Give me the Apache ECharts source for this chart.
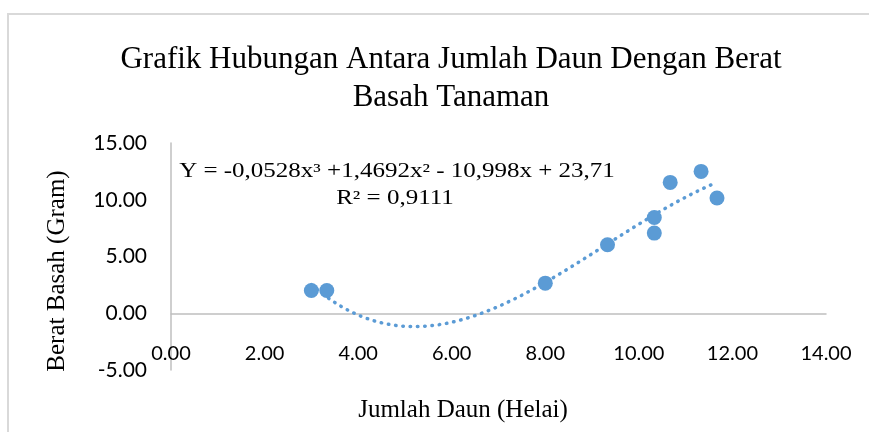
<!DOCTYPE html>
<html>
<head>
<meta charset="utf-8">
<script src="https://cdn.jsdelivr.net/npm/echarts@6/dist/echarts.min.js"></script>
<style>
  html, body { margin: 0; padding: 0; background: #fff; }
  #main { width: 869px; height: 432px; }
</style>
</head>
<body>
<div id="main"></div>
<script>
// data
const jumlahDaun = [3.00, 3.33, 8.00, 9.33, 10.33, 10.33, 10.67, 11.33, 11.67];
const beratBasah = [2.00, 2.00, 2.65, 6.03, 8.44, 7.06, 11.53, 12.50, 10.15];
// polynomial trendline, coefficients as printed on the chart (x^3, x^2, x, c)
const trendCoef = [-0.0528, 1.4692, -10.998, 23.71];
const xTicks = [0, 2, 4, 6, 8, 10, 12, 14];
const yTicks = [-5, 0, 5, 10, 15];

const blue = '#5b9bd5';
const axisGray = '#bfbfbf';

let myChart = echarts.init(document.getElementById('main'));

// trendline samples over the data range
const trend = [];
const xMin = Math.min(...jumlahDaun), xMax = Math.max(...jumlahDaun);
for (let i = 0; i <= 120; i++) {
  const x = xMin + (xMax - xMin) * i / 120;
  const y = trendCoef[0] * x * x * x + trendCoef[1] * x * x + trendCoef[2] * x + trendCoef[3];
  trend.push([x, y]);
}

myChart.setOption({
  animation: false,
  title: {
    text: 'Grafik Hubungan Antara Jumlah Daun Dengan Berat\nBasah Tanaman',
    left: 446,
    top: 36,
    textAlign: 'center',
    textStyle: {
      fontFamily: 'Liberation Serif',
      fontWeight: 'normal',
      fontSize: 31,
      lineHeight: 38,
      color: '#000'
    }
  },
  grid: { left: 171, right: 43, top: 143, bottom: 62, containLabel: false },
  xAxis: {
    type: 'value',
    min: xTicks[0],
    max: xTicks[xTicks.length - 1],
    interval: 2,
    axisLine: { show: true, onZero: true, lineStyle: { color: axisGray, width: 1.5 } },
    axisTick: { show: false },
    splitLine: { show: false },
    axisLabel: {
      margin: -26,
      fontFamily: 'Lato',
      fontSize: 20,
      color: '#000',
      formatter: v => v.toFixed(2)
    }
  },
  yAxis: {
    type: 'value',
    min: yTicks[0],
    max: yTicks[yTicks.length - 1],
    interval: 5,
    axisLine: { show: true, onZero: false, lineStyle: { color: axisGray, width: 1.5 } },
    axisTick: { show: false },
    splitLine: { show: false },
    axisLabel: {
      margin: 24,
      fontFamily: 'Lato',
      fontSize: 21,
      color: '#000',
      formatter: v => v.toFixed(2)
    }
  },
  graphic: [
    {
      type: 'rect',
      shape: { x: 8, y: 14, width: 900, height: 450 },
      style: { fill: 'none', stroke: '#d9d9d9', lineWidth: 2 },
      silent: true
    },
    {
      type: 'text',
      x: 57, y: 271,
      rotation: Math.PI / 2,
      style: {
        text: 'Berat Basah (Gram)',
        font: '25px "Liberation Serif"',
        fill: '#000',
        align: 'center',
        verticalAlign: 'middle'
      }
    },
    {
      type: 'text',
      x: 463, y: 410,
      style: {
        text: 'Jumlah Daun (Helai)',
        font: '25px "Liberation Serif"',
        fill: '#000',
        align: 'center',
        verticalAlign: 'middle'
      }
    },
    {
      type: 'text',
      x: 397, y: 172,
      scaleX: 1.25,
      style: {
        text: 'Y = -0,0528x³ +1,4692x² - 10,998x + 23,71',
        font: '20px "Liberation Serif"',
        fill: '#000',
        align: 'center',
        verticalAlign: 'middle'
      }
    },
    {
      type: 'text',
      x: 395, y: 199,
      scaleX: 1.25,
      style: {
        text: 'R² = 0,9111',
        font: '20px "Liberation Serif"',
        fill: '#000',
        align: 'center',
        verticalAlign: 'middle'
      }
    }
  ],
  series: [
    {
      type: 'line',
      data: trend,
      showSymbol: false,
      smooth: false,
      silent: true,
      lineStyle: { color: blue, width: 3.5, type: [0.5, 6.8], cap: 'round' },
      z: 1
    },
    {
      type: 'scatter',
      data: jumlahDaun.map((x, i) => [x, beratBasah[i]]),
      symbol: 'circle',
      symbolSize: 15,
      itemStyle: { color: blue, opacity: 1 },
      z: 2
    }
  ]
});
</script>
</body>
</html>
